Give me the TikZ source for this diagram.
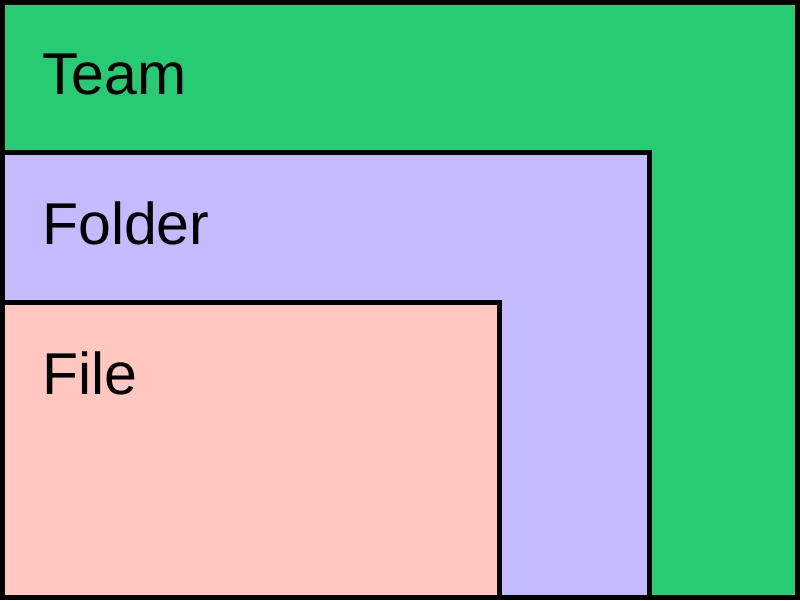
\documentclass[tikz,border=0pt]{standalone}
\usepackage{fontspec}
\setmainfont{Liberation Sans}
\definecolor{teamg}{RGB}{38,203,115}
\definecolor{folderp}{RGB}{196,187,255}
\definecolor{filep}{RGB}{255,199,192}
\begin{document}
\begin{tikzpicture}[x=1pt,y=-1pt,
  box/.style={draw=black,line width=5pt},
  lbl/.style={anchor=base west,inner sep=0pt,font=\fontsize{59}{62}\selectfont}]
\useasboundingbox (0,0) rectangle (800,600);
\filldraw[box,fill=teamg] (2.5,2.5) rectangle (797.5,597.5);
\filldraw[box,fill=folderp] (2.5,152.5) rectangle (649.5,597.5);
\filldraw[box,fill=filep] (2.5,302.5) rectangle (499,597.5);
\node[lbl] (team) at (42,94) {Team};
\node[lbl] (folder) at (42,244) {Folder};
\node[lbl] (file) at (42,394) {File};
\end{tikzpicture}
\end{document}
